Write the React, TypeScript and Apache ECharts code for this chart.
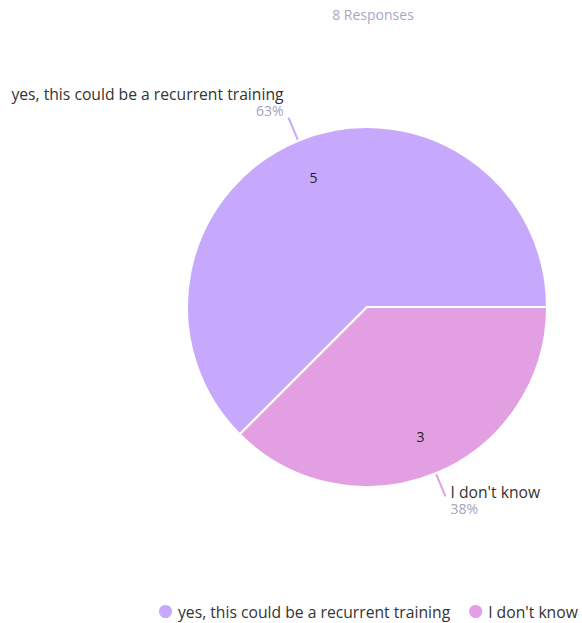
import React, { useEffect, useRef } from "react";
import * as echarts from "echarts";

const titleText = "8 Responses";
const categories = ["yes, this could be a recurrent training", "I don't know"];
const counts = [5, 3];
const colors = ["#c6a9fd", "#e2a0e2"];

export default function App() {
  const ref = useRef<HTMLDivElement>(null);
  useEffect(() => {
    if (!ref.current) return;
    const chart = echarts.init(ref.current, undefined, { renderer: "svg" });
    const total = counts.reduce((a, b) => a + b, 0);
    const font = "Open Sans";
    const mainData = categories.map((name, i) => ({
      name,
      value: counts[i],
      itemStyle: { color: colors[i] },
      label: {
        padding: i === 0 ? [0, 0, 32, 0] : [8, 0, 0, 0],
        rich: {
          n: { fontSize: 15.7, color: "#333333", fontFamily: font, lineHeight: 17 },
          p: {
            fontSize: 14,
            color: "#a3a3bf",
            fontFamily: font,
            lineHeight: 16,
            align: i === 0 ? "right" : "left",
          },
        },
      },
    }));
    const innerData = categories.map((name, i) => ({
      name,
      value: counts[i],
      itemStyle: { color: "rgba(0,0,0,0)" },
    }));
    chart.setOption({
      animation: false,
      title: {
        text: titleText,
        left: 368,
        top: 2,
        textAlign: "center",
        textStyle: { fontSize: 14, fontWeight: "normal", color: "#a9a8c4", fontFamily: font },
      },
      legend: {
        top: 598,
        left: 152,
        width: 800,
        icon: "circle",
        itemWidth: 15,
        itemHeight: 15,
        itemGap: 17,
        data: categories,
        textStyle: { fontSize: 15.7, color: "#333333", fontFamily: font },
      },
      series: [
        {
          type: "pie",
          center: [367, 307],
          radius: [0, 180],
          startAngle: 0,
          clockwise: false,
          data: mainData,
          itemStyle: { borderColor: "#ffffff", borderWidth: 2 },
          label: {
            show: true,
            position: "outside",
            formatter: (p: any) =>
              "{n|" + p.name + "}\n{p|" + Math.round((p.value / total) * 100) + "%}",
          },
          labelLine: { show: true, length: 25, length2: 0, lineStyle: { width: 2 } },
          emphasis: { disabled: true },
        },
        {
          type: "pie",
          center: [367, 307],
          radius: [0, 274],
          startAngle: 0,
          clockwise: false,
          silent: true,
          data: innerData,
          label: {
            show: true,
            position: "inside",
            formatter: "{c}",
            color: "#222222",
            fontSize: 14,
            fontFamily: font,
          },
          labelLine: { show: false },
          emphasis: { disabled: true },
        },
      ],
    });
    return () => chart.dispose();
  }, []);
  return (
    <div
      ref={ref}
      style={{ position: "fixed", left: 0, top: 0, width: 582, height: 623, background: "#ffffff" }}
    />
  );
}
